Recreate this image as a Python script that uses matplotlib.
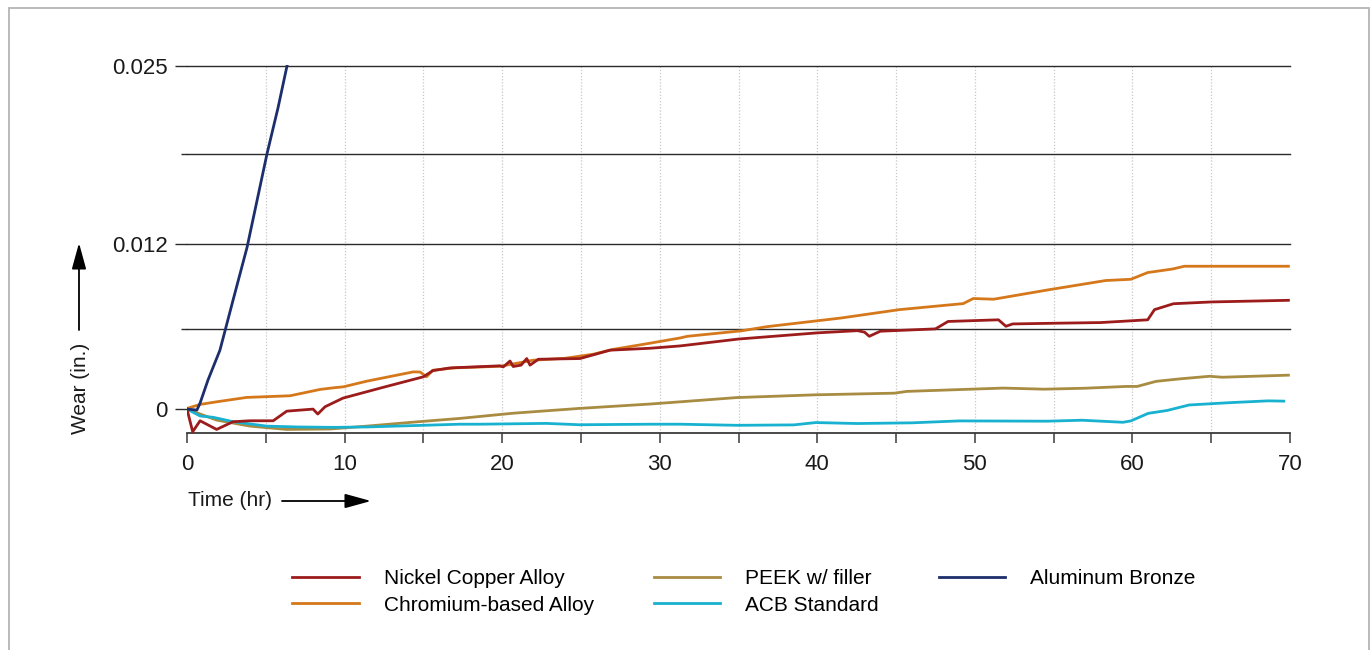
import matplotlib
matplotlib.use("Agg")
import matplotlib.pyplot as plt
from matplotlib.patches import Rectangle

plt.rcParams['font.family'] = ['Liberation Sans', 'DejaVu Sans']

# ---- data: wear (in.) vs. time (hr) ----
nickel_t = [0, 0.36, 0.83, 1.88, 2.92, 4.0, 5.47, 6.33, 8.0, 8.3, 8.76, 9.9, 12.5, 15.0,
            15.6, 16.7, 18.2, 19.86, 20.07, 20.5, 20.7, 21.2, 21.56, 21.77, 22.3, 24.94,
            26.85, 29.4, 31.3, 35.0, 40.0, 42.55, 43.0, 43.3, 44.0, 47.5, 48.3, 51.5,
            51.97, 52.4, 55.0, 58.0, 60.97, 61.4, 62.6, 65.0, 69.9]
nickel_w = [0, -0.00165, -0.00085, -0.00148, -0.00092, -0.00085, -0.00085, -0.00015, 0.0,
            -0.00036, 0.00017, 0.0008, 0.0016, 0.00235, 0.0028, 0.0030, 0.00307, 0.00315,
            0.00307, 0.0035, 0.0031, 0.0032, 0.00368, 0.0032, 0.00363, 0.00368, 0.00429,
            0.00443, 0.0046, 0.0051, 0.00555, 0.00571, 0.0056, 0.0053, 0.00567, 0.00584,
            0.00638, 0.0065, 0.00603, 0.0062, 0.00625, 0.0063, 0.0065, 0.00724, 0.00767,
            0.0078, 0.00792]

chrom_t = [0, 0.83, 1.88, 3.79, 6.54, 8.44, 9.29, 9.92, 11.4, 14.36, 14.8, 15.2, 15.6, 17.0,
           19.9, 21.97, 24.0, 25.8, 27.0, 29.4, 31.3, 31.76, 35.2, 36.8, 41.5, 45.2, 49.26,
           49.9, 51.2, 54.6, 58.3, 59.9, 60.97, 62.55, 63.3, 69.9]
chrom_w = [0.00005, 0.00034, 0.00053, 0.00085, 0.00097, 0.00143, 0.00155, 0.00162, 0.00203,
           0.00271, 0.0027, 0.00235, 0.00283, 0.0030, 0.00312, 0.00356, 0.0037, 0.0040,
           0.00434, 0.0048, 0.00518, 0.0053, 0.0057, 0.0060, 0.00663, 0.00724, 0.00768,
           0.00805, 0.0080, 0.00867, 0.00936, 0.00945, 0.00994, 0.0102, 0.0104, 0.0104]

peek_t = [0, 1.88, 4.0, 6.33, 9.07, 11.4, 14.36, 17.3, 20.7, 24.9, 29.4, 31.3, 34.9, 39.9,
          44.9, 45.7, 49.0, 51.8, 54.4, 57.0, 59.6, 60.3, 61.5, 63.0, 64.9, 65.7, 69.9]
peek_w = [0, -0.0008, -0.00124, -0.00148, -0.00145, -0.00124, -0.00095, -0.00068, -0.0003,
          0.00005, 0.00037, 0.00053, 0.00084, 0.00104, 0.00116, 0.00129, 0.00142, 0.00153,
          0.00145, 0.00152, 0.00165, 0.00165, 0.00202, 0.0022, 0.00239, 0.00232, 0.00247]

acb_t = [0, 0.83, 1.67, 2.94, 5.06, 7.0, 9.3, 11.4, 14.4, 17.3, 18.6, 22.8, 24.9, 29.4,
         31.3, 34.9, 38.5, 39.9, 42.5, 46.0, 49.0, 54.6, 56.8, 59.4, 59.9, 61.0, 62.2, 63.6,
         66.2, 68.6, 69.6]
acb_w = [0, -0.0005, -0.0006, -0.00092, -0.00124, -0.0013, -0.00133, -0.0013, -0.0012,
         -0.0011, -0.0011, -0.00104, -0.00114, -0.0011, -0.0011, -0.00118, -0.00115,
         -0.00098, -0.00105, -0.001, -0.00086, -0.00088, -0.00081, -0.00096, -0.00086,
         -0.00031, -0.0001, 0.0003, 0.00047, 0.0006, 0.00058]

bronze_t = [0, 0.63, 0.83, 1.33, 2.09, 2.92, 3.81, 5.08, 5.78, 6.35, 7.0]
bronze_w = [0, -0.00007, 0.00044, 0.00211, 0.00429, 0.00792, 0.01177, 0.0186, 0.02195,
            0.025, 0.0285]

y_ticks = [0, 0.012, 0.025]
y_tick_labels = ['0', '0.012', '0.025']
y_minor = [0.0058, 0.0186]
x_ticks = [0, 10, 20, 30, 40, 50, 60, 70]

C_NICKEL = '#9c1c1c'
C_CHROM = '#d5781b'
C_PEEK = '#a88c42'
C_ACB = '#18b2d0'
C_BRONZE = '#1d2e6d'

W, H = 1372, 650
fig = plt.figure(figsize=(W / 100, H / 100), dpi=100)
ax = fig.add_axes([187 / W, 1 - 433 / H, (1290 - 187) / W, (433 - 65) / H])

ax.set_xlim(0, 70)
ax.set_ylim(-0.00174, 0.02505)

# grid
ax.vlines(range(5, 70, 5), -0.00174, 0.025, colors='#c8c8c8', linestyles=(0, (1, 1.5)),
          linewidth=0.9, zorder=1)
for yv in y_minor + y_ticks[1:]:
    ax.axhline(yv, color='#2a2a2a', linewidth=1.0, zorder=1, clip_on=False)

lw = 2.0
lp, = ax.plot(peek_t, peek_w, color=C_PEEK, lw=lw, zorder=3)
la, = ax.plot(acb_t, acb_w, color=C_ACB, lw=lw, zorder=4)
lc, = ax.plot(chrom_t, chrom_w, color=C_CHROM, lw=lw, zorder=5)
ln, = ax.plot(nickel_t, nickel_w, color=C_NICKEL, lw=lw, zorder=6)
lb, = ax.plot(bronze_t, bronze_w, color=C_BRONZE, lw=lw, zorder=7)

# axes styling
for s in ['top', 'right', 'left']:
    ax.spines[s].set_visible(False)
ax.spines['bottom'].set_color('#3a3a3a')
ax.spines['bottom'].set_linewidth(1.3)

ax.set_xticks(x_ticks)
ax.set_xticks(range(5, 70, 10), minor=True)
ax.tick_params(axis='x', which='both', direction='out', length=7, width=1.1,
               color='#3a3a3a', labelsize=16, pad=8, labelcolor='#1a1a1a')
ax.set_yticks(y_ticks)
ax.set_yticklabels(y_tick_labels)
ax.set_yticks(y_minor, minor=True)
ax.tick_params(axis='y', which='major', direction='out', length=9, width=1.0,
               color='#2a2a2a', labelsize=16, pad=5, labelcolor='#1a1a1a')
ax.tick_params(axis='y', which='minor', direction='out', length=4, width=1.0,
               color='#2a2a2a')

# axis titles with arrows
arrow_style = dict(arrowstyle='-|>,head_length=0.8,head_width=0.22',
                   mutation_scale=20, color='black', lw=1.3,
                   shrinkA=0, shrinkB=0)
fig.text(80 / W, 1 - 388 / H, 'Wear (in.)', rotation=90, ha='center', va='center',
         fontsize=15, color='#1a1a1a')
ax.annotate('', xy=(79, H - 243), xytext=(79, H - 330), xycoords='figure pixels',
            textcoords='figure pixels', arrowprops=arrow_style)
fig.text(188 / W, 1 - 501 / H, 'Time (hr)', ha='left', va='center',
         fontsize=15, color='#1a1a1a')
ax.annotate('', xy=(371, H - 501), xytext=(282, H - 501), xycoords='figure pixels',
            textcoords='figure pixels', arrowprops=arrow_style)

# legend
fig.legend([ln, lc, lp, la, lb],
           ['Nickel Copper Alloy', 'Chromium-based Alloy', 'PEEK w/ filler',
            'ACB Standard', 'Aluminum Bronze'],
           ncol=3, loc='center', bbox_to_anchor=(744 / W, 1 - 592 / H),
           frameon=False, fontsize=15, handlelength=3.17, handletextpad=1.2,
           columnspacing=2.9, labelspacing=0.35, borderpad=0.2)

# outer frame
fig.add_artist(Rectangle((9 / W, -0.05), (1369 - 9) / W, 1.05 - 8.5 / H,
                         transform=fig.transFigure, fill=False,
                         edgecolor='#b4b4b4', linewidth=1.3))

fig.savefig('out.png', dpi=100)
